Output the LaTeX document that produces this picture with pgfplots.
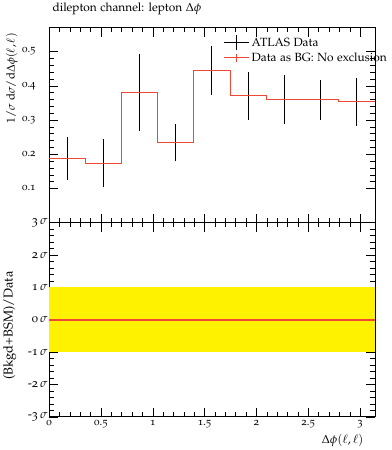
\documentclass[border=0pt]{standalone}
\usepackage[T1]{fontenc}
\usepackage[osf]{mathpazo}
\usepackage{pgfplots}
\pgfplotsset{compat=1.18}
\definecolor{rivetred}{RGB}{240,72,52}
\pgfplotsset{
  datalegend/.style={legend image code/.code={\draw[black, line width=1pt] (0cm,0cm) -- (0.9cm,0cm); \draw[black, line width=1pt] (0.45cm,-0.27cm) -- (0.45cm,0.27cm);}},
  mclegend/.style={legend image code/.code={\draw[rivetred, line width=1.1pt] (0cm,0cm) -- (0.9cm,0cm); \draw[rivetred, line width=0.5pt] (0.45cm,-0.14cm) -- (0.45cm,0.14cm);}},
}
\begin{document}
\begin{tikzpicture}
\pgfplotsset{
  every axis/.style={
    scale only axis, width=329pt,
    xmin=0, xmax=3.14159,
    tick align=inside, major tick length=9pt, minor tick length=4.5pt,
    xtick={0,0.5,1,1.5,2,2.5,3}, minor x tick num=4,
    tick pos=both,
    /pgf/number format/assume math mode=true,
    ticklabel style={font=\fontsize{11}{13}\selectfont},
    axis line style={black, line width=0.6pt},
    every tick/.style={black, line width=0.5pt},
  }
}
\begin{axis}[name=top, height=197pt, ymin=0, ymax=0.57,
  ytick={0.1,0.2,0.3,0.4,0.5}, minor y tick num=4,
  xticklabels={},
  yticklabel style={/pgf/number format/fixed, /pgf/number format/precision=1, xshift=-10pt},
  ylabel={$1/\sigma\;\mathrm{d}\sigma/\mathrm{d}\Delta\phi(\ell,\ell)$},
  ylabel style={at={(axis description cs:-0.085,0.99)}, anchor=south east, font=\fontsize{11.5}{13}\selectfont},
  title={dilepton channel: lepton $\Delta\phi$},
  title style={at={(axis description cs:0,1)}, anchor=south west, yshift=3pt, font=\fontsize{12}{14}\selectfont},
  legend style={draw=none, fill=none, at={(axis description cs:0.525,0.975)}, anchor=north west, font=\fontsize{12}{14}\selectfont, row sep=0pt, cells={anchor=west}},
  legend cell align=left,
]
\addplot[black, line width=1pt, draw=none, mark=none, forget plot,
  error bars/.cd, y dir=both, y explicit, error bar style={line width=1pt, solid}, error mark=none]
  coordinates {
  (0.1745,0.187) +- (0,0.062)
  (0.5236,0.174) +- (0,0.070)
  (0.8727,0.380) +- (0,0.113)
  (1.2217,0.234) +- (0,0.055)
  (1.5708,0.444) +- (0,0.071)
  (1.9199,0.371) +- (0,0.070)
  (2.2689,0.359) +- (0,0.072)
  (2.6180,0.359) +- (0,0.059)
  (2.9671,0.354) +- (0,0.070)
  };
\addplot[rivetred, line width=1.1pt, const plot, forget plot] coordinates {
  (0,0.187) (0.3491,0.174) (0.6981,0.380) (1.0472,0.234) (1.3963,0.444)
  (1.7453,0.371) (2.0944,0.359) (2.4435,0.359) (2.7925,0.354) (3.14159,0.354)
  };
\addlegendimage{datalegend}
\addlegendentry{ATLAS Data}
\addlegendimage{mclegend}
\addlegendentry{Data as BG: No exclusion}
\end{axis}
\begin{axis}[at={(top.south west)}, anchor=north west, height=196pt,
  ymin=-3, ymax=3, ytick={-3,-2,-1,0,1,2,3}, minor y tick num=4,
  yticklabels={-3\,$\sigma$,-2\,$\sigma$,-1\,$\sigma$,0\,$\sigma$,1\,$\sigma$,2\,$\sigma$,3\,$\sigma$},
  yticklabel style={font=\fontsize{12.5}{14}\selectfont, xshift=2pt},
  xticklabels={0,0.5,1,1.5,2,2.5,3},
  ylabel={(Bkgd+BSM)/Data},
  ylabel style={at={(axis description cs:-0.09,0.47)}, anchor=south, font=\fontsize{13}{15}\selectfont},
  xlabel={$\Delta\phi(\ell,\ell)$},
  xlabel style={at={(axis description cs:1,0)}, anchor=north east, yshift=-14pt, xshift=-8pt, font=\fontsize{12}{14}\selectfont},
]
\addplot[fill=yellow, draw=none, forget plot] coordinates {(0,-1) (3.14159,-1) (3.14159,1) (0,1)} -- cycle;
\addplot[rivetred, line width=1.6pt, const plot, forget plot] coordinates {(0,0) (1.5708,0) (3.14159,0)};
\end{axis}
\end{tikzpicture}
\end{document}
